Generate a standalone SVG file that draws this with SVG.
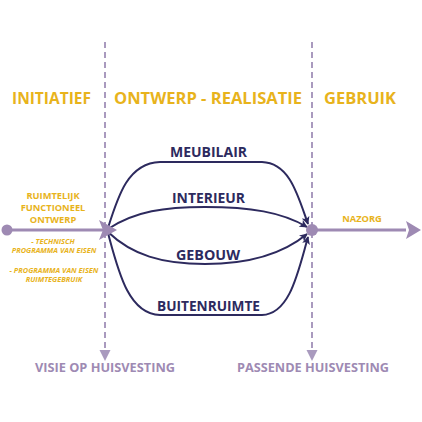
<svg xmlns="http://www.w3.org/2000/svg" width="422" height="422" viewBox="0 0 422 422">
<style>
.hd{font-family:"Open Sans","Liberation Sans",sans-serif;font-weight:700;fill:#E8B31C;font-size:16px}
.sm{font-family:"Open Sans","Liberation Sans",sans-serif;font-weight:700;fill:#E8B31C;font-size:9.3px}
.it{font-family:"Open Sans","Liberation Sans",sans-serif;font-weight:700;font-style:italic;fill:#E8B31C;font-size:7.4px}
.nv{font-family:"Open Sans","Liberation Sans",sans-serif;font-weight:700;fill:#2D2A5E;font-size:14.5px}
.pl{font-family:"Open Sans","Liberation Sans",sans-serif;font-weight:700;fill:#9E8AB3;font-size:13px}
.dash{stroke:#A99ABE;stroke-width:2;stroke-dasharray:6 4;fill:none}
.curve{stroke:#2D2A5E;stroke-width:2;fill:none;marker-end:url(#nav)}
.main{stroke:#9E8AB3;stroke-width:3;fill:none}
</style>
<defs>
<marker id="nav" viewBox="0 0 10 10" refX="9" refY="5" markerWidth="4" markerHeight="4" orient="auto" markerUnits="strokeWidth">
<path d="M0,0 L10,5 L0,10 L2.5,5 Z" fill="#2D2A5E"/>
</marker>
</defs>
<rect width="422" height="422" fill="#FFFFFF"/>
<g id="phases">
<text class="hd" x="12" y="104" textLength="79" lengthAdjust="spacingAndGlyphs">INITIATIEF</text>
<text class="hd" x="114" y="104" textLength="188" lengthAdjust="spacingAndGlyphs">ONTWERP - REALISATIE</text>
<text class="hd" x="324" y="104" textLength="72" lengthAdjust="spacingAndGlyphs">GEBRUIK</text>
</g>
<g id="connectors">
<path class="dash" d="M105,42 V352"/>
<path d="M99.5,350 L110.5,350 L105,361 Z" fill="#A99ABE"/>
<path class="dash" d="M312,42 V352"/>
<path d="M306.5,350 L317.5,350 L312,361 Z" fill="#A99ABE"/>
<path class="main" d="M7,230 H108"/>
<path class="main" d="M312,230 H406"/>
<path d="M406,221 L421,230 L406,239 L409,230 Z" fill="#9E8AB3"/>
<path class="curve" d="M108,228 C118,196 128,163 160,162 H262 C290,163 298,196 308,224"/>
<path class="curve" d="M108,229 C135,211 165,207 205,207 C250,207 282,212 307,227"/>
<path class="curve" d="M108,232 C132,255 162,264 205,264 C252,264 284,253 307,234"/>
<path class="curve" d="M108,233 C118,270 128,314 160,315 H262 C290,314 298,272 308,237"/>
</g>
<g id="start">
<circle cx="7" cy="230" r="5.5" fill="#9E8AB3"/>
<path d="M99,220 L117,230 L99,240 L103,230 Z" fill="#9E8AB3"/>
</g>
<g id="end">
<circle cx="312" cy="230" r="6" fill="#9E8AB3"/>
</g>
<g id="initiatief-labels">
<text class="sm" text-anchor="middle" x="53" y="199">RUIMTELIJK</text>
<text class="sm" text-anchor="middle" x="53" y="211">FUNCTIONEEL</text>
<text class="sm" text-anchor="middle" x="53" y="223">ONTWERP</text>
<text class="it" text-anchor="middle" x="53" y="244">- TECHNISCH</text>
<text class="it" text-anchor="middle" x="54" y="253">PROGRAMMA VAN EISEN</text>
<text class="it" text-anchor="middle" x="54" y="273">- PROGRAMMA VAN EISEN</text>
<text class="it" text-anchor="middle" x="54" y="282">RUIMTEGEBRUIK</text>
</g>
<g id="meubilair"><text class="nv" text-anchor="middle" x="208.5" y="157" textLength="77" lengthAdjust="spacingAndGlyphs">MEUBILAIR</text></g>
<g id="interieur"><text class="nv" text-anchor="middle" x="208.5" y="203" textLength="73" lengthAdjust="spacingAndGlyphs">INTERIEUR</text></g>
<g id="gebouw"><text class="nv" text-anchor="middle" x="208" y="260" textLength="64" lengthAdjust="spacingAndGlyphs">GEBOUW</text></g>
<g id="buitenruimte"><text class="nv" text-anchor="middle" x="208.5" y="311" textLength="103" lengthAdjust="spacingAndGlyphs">BUITENRUIMTE</text></g>
<g id="nazorg"><text class="sm" text-anchor="middle" x="362" y="222">NAZORG</text></g>
<g id="visie"><text class="pl" text-anchor="middle" x="105" y="372" textLength="140" lengthAdjust="spacingAndGlyphs">VISIE OP HUISVESTING</text></g>
<g id="passende"><text class="pl" text-anchor="middle" x="313" y="372" textLength="152" lengthAdjust="spacingAndGlyphs">PASSENDE HUISVESTING</text></g>
</svg>
